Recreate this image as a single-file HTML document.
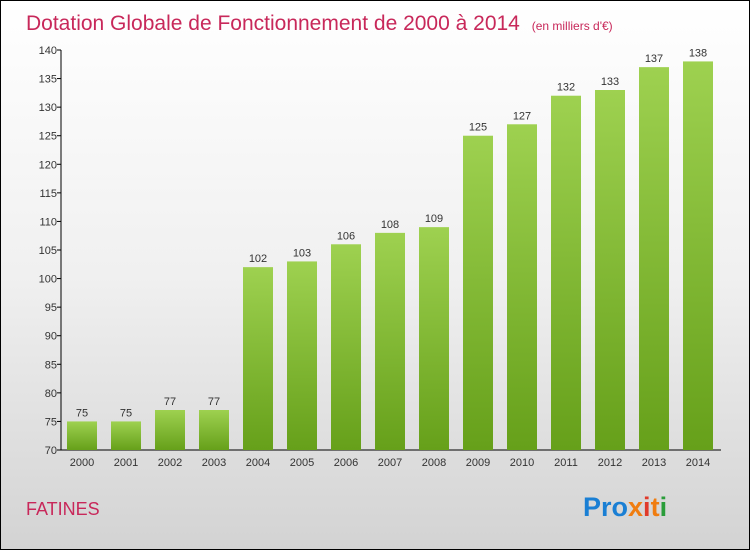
<!DOCTYPE html>
<html><head><meta charset="utf-8"><style>
body{margin:0}
#wrap{width:748px;height:548px;border:1px solid #000;background:linear-gradient(#ffffff 0%,#f0f0f0 50%,#d3d3d3 100%);position:relative;font-family:"Liberation Sans",sans-serif;overflow:hidden}
svg text{font-family:"Liberation Sans",sans-serif}
</style></head><body>
<div id="wrap">
<svg width="748" height="548" viewBox="1 1 748 548" id="chart">
<defs><linearGradient id="bg" x1="0" y1="0" x2="0" y2="1"><stop offset="0" stop-color="#9ed150"/><stop offset="1" stop-color="#66a01a"/></linearGradient></defs>
<text x="26" y="30" font-size="21" fill="#c8285a">Dotation Globale de Fonctionnement de 2000 à 2014 <tspan font-size="12" dx="6">(en milliers d'€)</tspan></text>
<text x="26" y="515" font-size="18" fill="#c8285a">FATINES</text>
<g font-size="27" font-weight="bold">
<text x="583" y="516"><tspan fill="#1a7fd4">Pro</tspan><tspan fill="#f07d10">x</tspan><tspan fill="#e03a2a">i</tspan><tspan fill="#f07d10">t</tspan><tspan fill="#2a9d3a">i</tspan></text>
</g>
<g id="axes"></g><g id="bars"></g>
</svg>
</div>
<script>
const categories=["2000","2001","2002","2003","2004","2005","2006","2007","2008","2009","2010","2011","2012","2013","2014"];
const values=[75,75,77,77,102,103,106,108,109,125,127,132,133,137,138];
const yTicks=[70,75,80,85,90,95,100,105,110,115,120,125,130,135,140];
(function(){
const NS="http://www.w3.org/2000/svg";
const yMin=70,yMax=140,yTop=50,bot=450,x0=61,step=44,bw=30;
const y=v=>bot-(v-yMin)/(yMax-yMin)*(bot-yTop);
const xc=i=>x0+step*i+21;
function mk(t,a,p){const e=document.createElementNS(NS,t);for(const k in a)e.setAttribute(k,a[k]);p.appendChild(e);return e;}
const ax=document.getElementById('axes'),bs=document.getElementById('bars');
const yl=mk('line',{x1:x0,y1:yTop,x2:x0,y2:bot,stroke:'#000'},ax);


const xl=mk('line',{x1:x0,y1:bot,x2:721,y2:bot,stroke:'#000'},ax);


yTicks.forEach(v=>{
 mk('line',{x1:x0-4,y1:y(v),x2:x0,y2:y(v),stroke:'#000'},ax);
 const t=mk('text',{x:x0-4,y:y(v)+4,'font-size':11,'text-anchor':'end',fill:'#333'},ax);
 t.textContent=v;
 
 
});
categories.forEach((c,i)=>{
 const v=values[i];
 const r=mk('rect',{x:xc(i)-bw/2,y:y(v),width:bw,height:bot-y(v),fill:'url(#bg)'},bs);
 
 
 const l=mk('text',{x:xc(i),y:y(v)-5,'font-size':11,'text-anchor':'middle',fill:'#333'},bs);
 l.textContent=v;
 
 
 const t=mk('text',{x:xc(i),y:bot+16,'font-size':11,'text-anchor':'middle',fill:'#333'},ax);
 t.textContent=c;
 
 
});
})();
</script>
</body></html>
